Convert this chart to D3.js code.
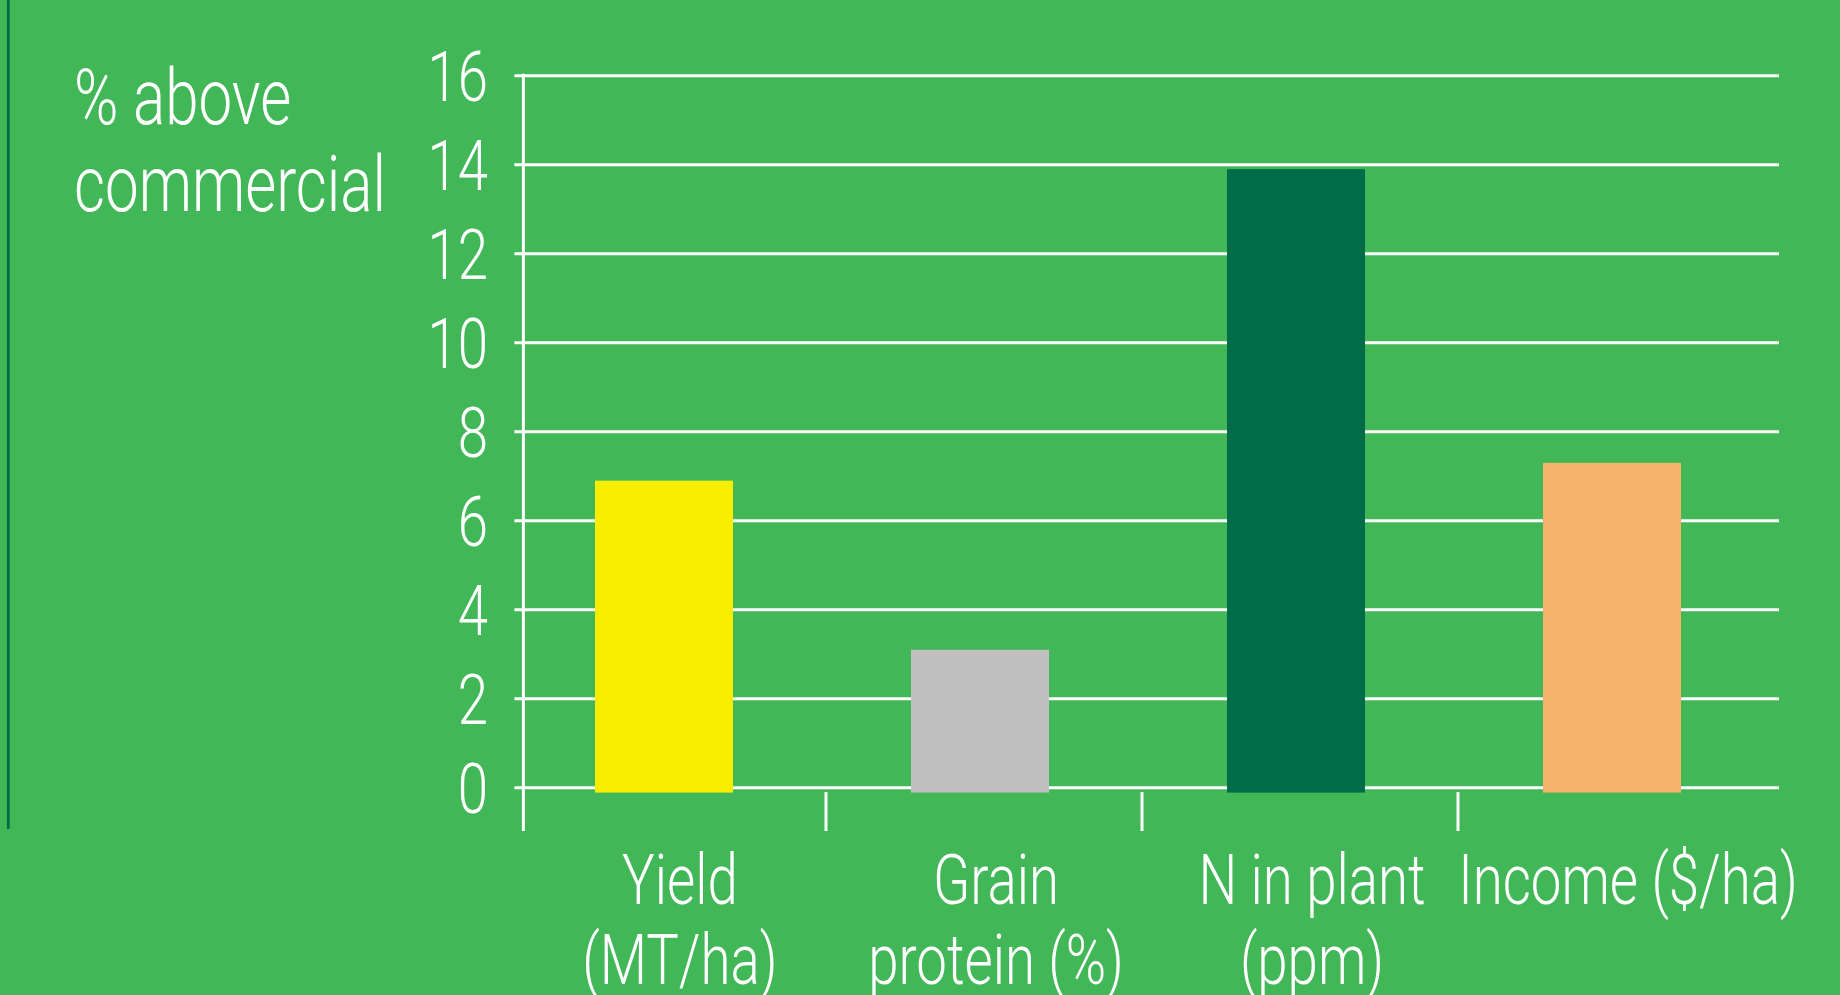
<!DOCTYPE html>
<html>
<head>
<meta charset="utf-8">
<script src="https://cdn.jsdelivr.net/npm/d3@7"></script>
<style>
  html, body { margin: 0; padding: 0; background: #41b757; overflow: hidden; }
  text { font-family: Roboto, "Liberation Sans Narrow", sans-serif; font-weight: 300; fill: #fff; }
</style>
</head>
<body>
<div id="chart"></div>
<script>
// data
let categories = ['Yield (MT/ha)', 'Grain protein (%)', 'N in plant (ppm)', 'Income ($/ha)']
let labelLines = [['Yield', '(MT/ha)'], ['Grain', 'protein (%)'], ['N in plant', '(ppm)'], ['Income ($/ha)']]
let values = [6.9, 3.1, 13.9, 7.3]
let barColors = ['#f7ee00', '#c0c0c0', '#026b47', '#f6b36a']
let yTicks = [0, 2, 4, 6, 8, 10, 12, 14, 16]
let yTitle = ['% above', 'commercial']

let width = 1840, height = 995
let axisX = 523.4, gridRight = 1779
let squeeze = 0.78   // condensed look for the type

let svg = d3.select('#chart')
.append('svg')
.attr('width', width)
.attr('height', height)

svg.append('rect')
.attr('width', width)
.attr('height', height)
.attr('fill', '#41b757')

// thin dark rule at the far left
svg.append('line')
.attr('x1', 8.3).attr('x2', 8.3)
.attr('y1', 0).attr('y2', 829)
.style('stroke', '#026b47')
.style('stroke-width', 2.7)

let y = d3.scaleLinear()
.domain([0, 16])
.range([787.7, 75.7])

let x = d3.scaleBand()
.domain(categories)
.range([506, 1770])
.paddingInner(0.5633)
.paddingOuter(0.2816)

function addText(g, str, tx, ty, size, anchor) {
    return g.append('text')
    .attr('transform', `translate(${tx},${ty}) scale(${squeeze},1)`)
    .attr('text-anchor', anchor)
    .style('font-size', size + 'px')
    .text(str)
}

// grid
svg.append('g')
.attr('class', 'grid')
.selectAll('line')
.data(yTicks)
.join('line')
.attr('x1', axisX - 9)
.attr('x2', gridRight)
.attr('y1', d => y(d))
.attr('y2', d => y(d))
.style('stroke', '#fff')
.style('stroke-width', 3)

// bars
svg.append('g')
.attr('class', 'bars')
.selectAll('rect')
.data(values)
.join('rect')
.attr('x', (d, i) => x(categories[i]))
.attr('width', x.bandwidth())
.attr('y', d => y(d))
.attr('height', d => y(-0.11) - y(d))
.attr('fill', (d, i) => barColors[i])

// y axis line + category dividers below the base
svg.append('line')
.attr('x1', axisX).attr('x2', axisX)
.attr('y1', y(16) - 2).attr('y2', 831)
.style('stroke', '#fff')
.style('stroke-width', 3)

let step = x.step()
svg.append('g')
.selectAll('line')
.data(categories.slice(1))
.join('line')
.attr('x1', d => x(d) - step * x.paddingInner() / 2 + 4)
.attr('x2', d => x(d) - step * x.paddingInner() / 2 + 4)
.attr('y1', 792)
.attr('y2', 831)
.style('stroke', '#fff')
.style('stroke-width', 3)

// tick labels
let yLab = svg.append('g').attr('class', 'y-labels')
yTicks.forEach(t => {
    addText(yLab, t, 488, y(t) + 25, 70, 'end')
})

// axis title
let tg = svg.append('g')
yTitle.forEach((s, i) => {
    addText(tg, s, 74, 124 + i * 87, 77, 'start')
})

// category labels
let cg = svg.append('g')
labelLines.forEach((lines, i) => {
    let cx = x(categories[i]) + x.bandwidth() / 2 + 16
    lines.forEach((s, j) => {
        addText(cg, s, cx, 904 + j * 80, 70, 'middle')
    })
})
</script>
</body>
</html>
